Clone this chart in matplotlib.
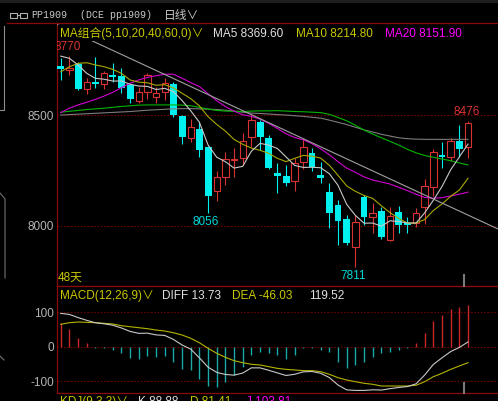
import matplotlib
matplotlib.use("Agg")
import matplotlib.pyplot as plt
from matplotlib.lines import Line2D
from matplotlib.patches import Rectangle
import numpy as np

plt.rcParams["font.family"] = ["Liberation Sans", "Noto Sans CJK SC", "DejaVu Sans"]
plt.rcParams["axes.unicode_minus"] = False

# ── Data (daily PP1909, 48 sessions) ───────────────────────────────────────
opens = [8723, 8705, 8732, 8620, 8652, 8640, 8684, 8678, 8637, 8566, 8607, 8581,
         8607, 8640, 8497, 8399, 8437, 8355, 8159, 8222, 8299, 8305, 8400, 8470,
         8396, 8237, 8226, 8202, 8288, 8331, 8228, 8151, 8092, 8029, 7902, 8131,
         8038, 8067, 7935, 8061, 8010, 8011, 8083, 8174, 8320, 8312, 8384, 8355]
highs = [8760, 8770, 8740, 8668, 8765, 8699, 8737, 8714, 8642, 8630, 8692, 8630,
         8668, 8652, 8500, 8482, 8471, 8361, 8248, 8332, 8351, 8421, 8501, 8479,
         8411, 8283, 8275, 8305, 8393, 8353, 8290, 8192, 8116, 8048, 8048, 8139,
         8101, 8086, 8086, 8089, 8040, 8079, 8210, 8347, 8378, 8396, 8456, 8476]
lows = [8660, 8682, 8615, 8595, 8624, 8618, 8652, 8601, 8556, 8557, 8574, 8557,
        8569, 8494, 8369, 8380, 8312, 8056, 8113, 8184, 8219, 8275, 8355, 8343,
        8255, 8150, 8180, 8157, 8257, 8249, 8195, 7988, 7913, 7913, 7811, 8003,
        7966, 7940, 7932, 7966, 7966, 7995, 8008, 8135, 8260, 8293, 8312, 8305]
closes = [8710, 8714, 8620, 8650, 8643, 8690, 8672, 8622, 8575, 8604, 8681, 8602,
          8648, 8501, 8403, 8448, 8342, 8135, 8222, 8302, 8303, 8382, 8477, 8400,
          8263, 8226, 8192, 8283, 8355, 8267, 8215, 8056, 8021, 7923, 8018, 8038,
          8059, 7950, 8045, 8003, 8005, 8056, 8181, 8332, 8313, 8384, 8347, 8467]

ma5 = [8768, 8758, 8728, 8690, 8667.4, 8663.4, 8655.0, 8655.4, 8640.4, 8632.6, 8630.8, 8616.8,
       8622.0, 8607.2, 8567.0, 8520.4, 8468.4, 8365.8, 8310.0, 8289.8, 8260.8, 8268.8, 8337.2, 8372.8,
       8365.0, 8349.6, 8311.6, 8272.8, 8263.8, 8264.6, 8262.4, 8235.2, 8182.8, 8096.4, 8046.6, 8011.2,
       8011.8, 7997.6, 8022.0, 8019.0, 8012.4, 8011.8, 8058.0, 8115.4, 8177.4, 8253.2, 8311.4, 8369.6]
ma10 = [8697, 8720, 8735, 8738, 8728, 8720, 8708, 8690, 8660, 8650.0, 8647.1, 8635.9,
        8638.7, 8623.8, 8599.8, 8575.6, 8542.6, 8493.9, 8458.6, 8428.4, 8390.6, 8368.6, 8351.5, 8341.4,
        8327.4, 8305.2, 8290.2, 8305.0, 8318.3, 8314.8, 8306.0, 8273.4, 8227.8, 8180.1, 8155.6, 8136.8,
        8123.5, 8090.2, 8059.2, 8032.8, 8011.8, 8011.8, 8027.8, 8068.7, 8098.2, 8132.8, 8161.6, 8214.8]
ma20 = [8512, 8532, 8547, 8559, 8572, 8587, 8604, 8625, 8645, 8660, 8672, 8679,
        8686, 8686, 8668, 8648, 8630, 8598, 8566, 8539.2, 8518.9, 8502.3, 8495.1, 8482.6,
        8463.6, 8440.4, 8416.4, 8399.5, 8388.5, 8371.6, 8348.3, 8321.0, 8289.7, 8260.8, 8241.5, 8221.0,
        8206.9, 8197.6, 8188.8, 8173.8, 8158.9, 8142.6, 8127.8, 8124.4, 8126.9, 8134.8, 8142.6, 8151.9]
ma40 = [8514, 8518, 8522, 8526, 8529, 8532, 8536, 8540, 8543, 8546, 8547, 8547,
        8547, 8547, 8546, 8543, 8536, 8528, 8522, 8519, 8518, 8517, 8519, 8520,
        8520, 8521, 8519, 8517, 8516, 8514, 8512, 8504, 8490, 8475, 8455, 8433,
        8415, 8398, 8382, 8365, 8346, 8330, 8318, 8310, 8302, 8294, 8284, 8275]
ma60 = [8501, 8503, 8505, 8507, 8509, 8511, 8513, 8515, 8517, 8520, 8523, 8525,
        8527, 8529, 8530, 8530, 8529, 8528, 8526, 8523, 8519, 8514, 8510, 8508,
        8506, 8503, 8501, 8498, 8495, 8491, 8487, 8478, 8468, 8458, 8446, 8434,
        8424, 8414, 8406, 8398, 8394, 8392, 8391, 8391, 8391, 8391, 8391, 8391]

trend_x = [-0.43, 50.46]
trend_y = [8911, 7985]

macd_hist = [67.4, 50.1, 24.1, 9.6, -2.9, -4.7, -9.5, -19.0, -33.5, -35.4, -26.9, -30.6,
             -26.9, -43.2, -65.3, -67.1, -94.1, -113.3, -115.3, -100.9, -81.6, -59.5, -23.9, -14.4,
             -19.0, -23.9, -35.4, -23.9, -4.7, -4.7, -9.5, -14.4, -43.2, -60.5, -52.7, -43.2,
             -30.6, -19.0, -14.4, -9.5, -2.9, 9.6, 38.4, 74.0, 91.4, 108.6, 113.4, 119.52]
diff = [96, 93, 84, 76, 69, 66, 62, 54, 44, 38.5, 39, 34,
        32.5, 21, 5, -7, -32, -59, -74, -80, -82, -76, -61, -61,
        -68, -75.5, -83, -79.5, -72.5, -71.5, -76.7, -89, -110.5, -124.5, -126, -126,
        -124.3, -125, -121, -117.5, -115, -107, -81.6, -51, -32, -14, -2, 13.73]
dea = [64.5, 69.2, 71.2, 70.2, 69.2, 67.4, 65.4, 60.5, 57.6, 54.8, 51.9, 48.1,
       45.2, 40.3, 33.7, 24.2, 11.5, -4.6, -19.0, -30.6, -40.3, -46.1, -50.7, -52.7,
       -57.6, -62.4, -65.3, -67.1, -69.0, -69.0, -72.0, -79.6, -89.3, -96.0, -100.9, -105.5,
       -108.4, -113.3, -113.3, -113.3, -113.3, -111.2, -100.9, -86.5, -76.7, -65.3, -55.6, -46.03]

# extremes marked by the terminal: (index, which)
marks = [(1, "high"), (17, "low"), (34, "low"), (47, "high")]

# ── Style ──────────────────────────────────────────────────────────────────
RED = "#d83232"
CYAN = "#00f0f0"
FRAME = "#8a0a0a"
GRID = "#6e0000"
YEL = "#c8c800"
WHITE = "#e0e0e0"
MAG = "#ff00ff"
TICK = "#b4b4b4"
FS = 8.5

W, H = 498, 401
fig = plt.figure(figsize=(W / 100, H / 100), dpi=100, facecolor="black")


def fx(px):
    return px / W


def fy(py):
    return 1 - py / H


ax = fig.add_axes([fx(57), fy(285.5), fx(498) - fx(57), fy(23) - fy(285.5)])
axm = fig.add_axes([fx(57), fy(392.7), fx(498) - fx(57), fy(285.5) - fy(392.7)], sharex=ax)

for a in (ax, axm):
    a.set_facecolor("black")
    for side in ("left", "top", "bottom"):
        a.spines[side].set_color(FRAME)
        a.spines[side].set_linewidth(0.9)
    a.spines["right"].set_visible(False)
    a.tick_params(axis="y", length=0, pad=2, labelsize=FS, labelcolor=TICK)
    a.tick_params(axis="x", bottom=False, labelbottom=False)

# ── Main price panel ───────────────────────────────────────────────────────
o, h, l, c = map(np.array, (opens, highs, lows, closes))
x = np.arange(len(c))
up = c >= o

for lvl in (8000, 8500):
    ax.axhline(lvl, color=GRID, lw=0.8, ls=(0, (1.5, 1.5)), zorder=1)

ax.vlines(x[up], l[up], h[up], color=RED, lw=0.8, zorder=2)
ax.vlines(x[~up], l[~up], h[~up], color=CYAN, lw=0.8, zorder=2)
ax.bar(x[up], c[up] - o[up], bottom=o[up], width=0.74, facecolor="black",
       edgecolor=RED, lw=0.8, zorder=3)
ax.bar(x[~up], np.maximum(o[~up] - c[~up], 3), bottom=c[~up], width=0.8,
       color=CYAN, lw=0, zorder=3)

ax.plot(x, ma60, color="#7c7c7c", lw=0.8, zorder=4)
ax.plot(x, ma40, color="#00b400", lw=0.8, zorder=4)
ax.plot(x, ma20, color="#d200d2", lw=0.8, zorder=4)
ax.plot(x, ma10, color="#a8a800", lw=0.8, zorder=4)
ax.plot(x, ma5, color="#c8c8c8", lw=0.8, zorder=4)
ax.plot(trend_x, trend_y, color="#a0a0a0", lw=0.8, zorder=4)

for i, kind in marks:
    if kind == "high":
        ax.annotate(f"{h[i]:.0f}", xy=(i, h[i]), xytext=(-1, 6.2), textcoords="offset points",
                    ha="center", va="center", color=RED, fontsize=FS, zorder=6, clip_on=True)
    else:
        ax.annotate(f"{l[i]:.0f}", xy=(i, l[i]), xytext=(-1.5, -6.2), textcoords="offset points",
                    ha="center", va="center", color="#00d8d8", fontsize=FS, zorder=6, clip_on=True)

ax.set_xlim(-0.43, 50.46)
ax.set_ylim(7729, 8918)
ax.set_yticks([8000, 8500])

# ── MACD panel ─────────────────────────────────────────────────────────────
hist = np.array(macd_hist)
for lvl in (-100, 0, 100):
    axm.axhline(lvl, color=GRID, lw=0.8, ls=(0, (1.5, 1.5)), zorder=1)
axm.vlines(x[hist >= 0], 0, hist[hist >= 0], color="#c82828", lw=1.0, zorder=2)
axm.vlines(x[hist < 0], 0, hist[hist < 0], color="#1aa8a8", lw=1.0, zorder=2)
axm.plot(x, dea, color="#b4b400", lw=0.8, zorder=3)
axm.plot(x, diff, color="#c8c8c8", lw=0.8, zorder=3)
axm.set_ylim(-132.6, 176.4)
axm.set_yticks([-100, 0, 100])

# ── Frame decorations ──────────────────────────────────────────────────────
def fline(xs, ys, color, lw=0.8):
    fig.add_artist(Line2D([fx(v) for v in xs], [fy(v) for v in ys],
                          transform=fig.transFigure, color=color, lw=lw))


fig.add_artist(Rectangle((0, fy(3)), 1, fy(0) - fy(3), transform=fig.transFigure,
                         color="#1e1e1e", lw=0))
fline([7, 57], [23, 23], FRAME, 0.9)
fline([4, 4, 0], [26, 110, 110], "#8c8c8c")
fline([0, 5, 5], [193, 199, 278], "#707070")
fline([0, 4], [356, 360], "#707070")
fline([464, 464], [275, 286], "#7a7a7a", 1.5)
fline([464, 464], [383, 392.7], "#7a7a7a", 1.5)

# header icon + title
for x0 in (10, 20):
    fig.add_artist(Rectangle((fx(x0), fy(17.5)), fx(7), fy(0) - fy(4.5),
                             transform=fig.transFigure, fill=False, ec="#b0b0b0", lw=0.8))
fline([17, 20], [15.2, 15.2], "#b0b0b0")
hdr = dict(color="#c8c8c8", va="baseline", family=["Liberation Mono", "Noto Sans CJK SC", "DejaVu Sans"])
fig.text(fx(31.5), fy(18.5), "PP1909", fontsize=7.2, **hdr)
fig.text(fx(80), fy(18.5), "(DCE pp1909)", fontsize=7.2, **hdr)
fig.text(fx(164), fy(18.5), "日线∨", fontsize=8.5, **hdr)

# legends
box = dict(facecolor="black", edgecolor="none", pad=1.0)
fig.text(fx(59.5), fy(36.7), "MA组合(5,10,20,40,60,0)∨", color=YEL, fontsize=FS, va="baseline", bbox=box)
fig.text(fx(213), fy(36.7), "MA5 8369.60", color=WHITE, fontsize=FS, va="baseline")
fig.text(fx(296), fy(36.7), "MA10 8214.80", color=YEL, fontsize=FS, va="baseline")
fig.text(fx(385), fy(36.7), "MA20 8151.90", color=MAG, fontsize=FS, va="baseline")
fig.text(fx(58), fy(280.7), "48天", color=YEL, fontsize=FS, va="baseline")

fig.text(fx(60), fy(299), "MACD(12,26,9)∨", color=YEL, fontsize=FS, va="baseline")
fig.text(fx(162), fy(299), "DIFF 13.73", color=WHITE, fontsize=FS, va="baseline")
fig.text(fx(231.5), fy(299), "DEA -46.03", color=YEL, fontsize=FS, va="baseline")
fig.text(fx(309), fy(299), "119.52", color=WHITE, fontsize=FS, va="baseline")

fig.text(fx(60), fy(405), "KDJ(9,3,3)∨", color=YEL, fontsize=FS, va="baseline")
fig.text(fx(138), fy(405), "K 88.88", color=WHITE, fontsize=FS, va="baseline")
fig.text(fx(190), fy(405), "D 81.41", color=YEL, fontsize=FS, va="baseline")
fig.text(fx(246), fy(405), "J 103.81", color=MAG, fontsize=FS, va="baseline")

fig.savefig("out.png", dpi=100, facecolor="black")
